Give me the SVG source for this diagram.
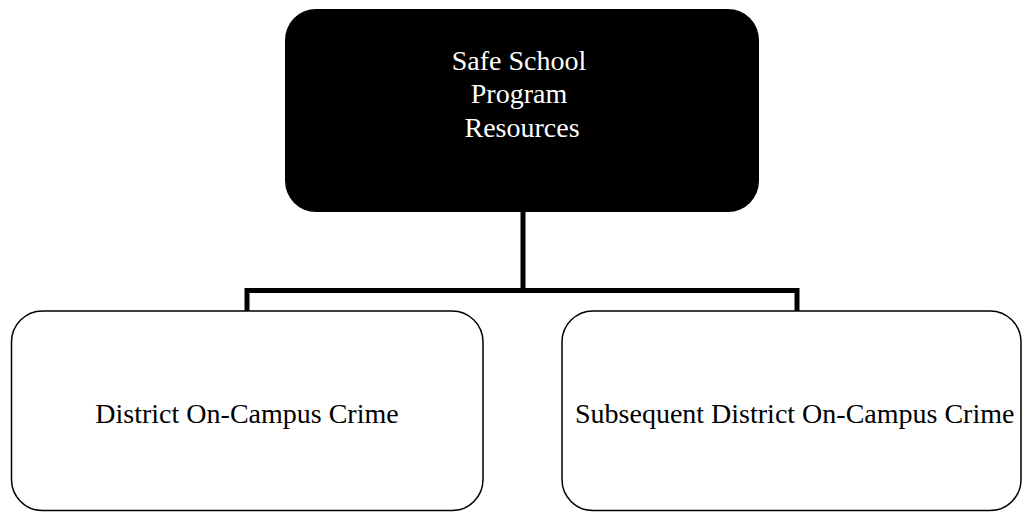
<svg xmlns="http://www.w3.org/2000/svg" width="1022" height="512" viewBox="0 0 1022 512">
<style>
.box{fill:#fff;stroke:#000;stroke-width:1.5}
.t{font-family:"Liberation Serif","Times New Roman",serif;font-size:28px;fill:#000}
.w{fill:#fff}
.conn{fill:none;stroke:#000;stroke-width:5;stroke-linecap:butt}
</style>
<rect width="1022" height="512" fill="#fff"/>
<g id="connectors">
<path class="conn" d="M523 212 V290.5"/>
<path class="conn" d="M247 290.5 H797"/>
<path class="conn" d="M247 288 V311"/>
<path class="conn" d="M797 288 V311"/>
</g>
<g id="root">
<rect x="285" y="9" width="474" height="203" rx="31" ry="31" fill="#000"/>
<text class="t w" text-anchor="middle"><tspan x="519" y="70">Safe School</tspan><tspan x="519" y="103">Program</tspan><tspan x="522" y="137">Resources</tspan></text>
</g>
<g id="left">
<rect class="box" x="11.5" y="311" width="471.5" height="199.5" rx="31" ry="31"/>
<text class="t" x="247" y="423" text-anchor="middle">District On-Campus Crime</text>
</g>
<g id="right">
<rect class="box" x="562" y="311" width="459" height="199.5" rx="31" ry="31"/>
<text class="t" x="575" y="423">Subsequent District On-Campus Crime</text>
</g>
</svg>
